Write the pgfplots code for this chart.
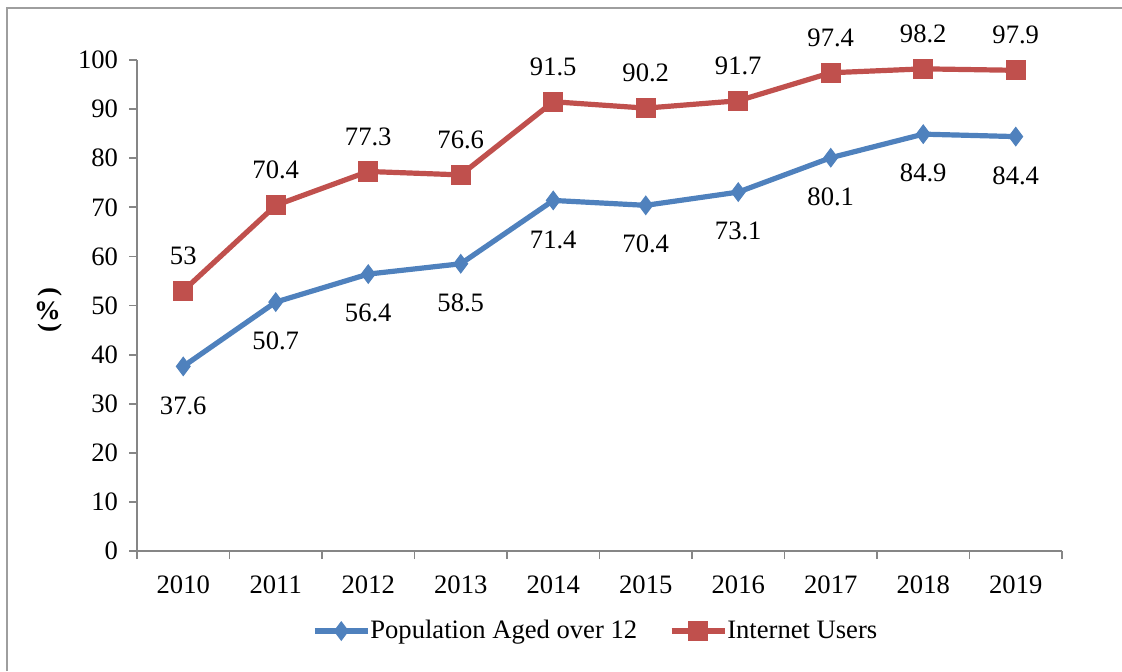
\documentclass[border=0pt]{standalone}
\usepackage{pgfplots}
\pgfplotsset{compat=1.18}
\usepackage{fontspec}
\setmainfont{Liberation Serif}
\definecolor{bl}{HTML}{4F81BD}
\definecolor{rd}{HTML}{C0504D}
\definecolor{ax}{HTML}{868686}
\begin{document}
\begin{tikzpicture}
\useasboundingbox (-68.5pt,-60pt) rectangle (492.5pt,275.5pt);
\draw[color=ax!80, line width=1pt] (-65pt,-60pt) -- (-65pt,271.5pt) -- (492.5pt,271.5pt);
\begin{axis}[
  at={(0,0)}, anchor=south west,
  scale only axis, width=462.5pt, height=245.5pt,
  xmin=-0.5, xmax=9.5, ymin=0, ymax=100,
  axis lines*=left,
  axis line style={color=ax, line width=0.9pt},
  xtick={0,...,9},
  xticklabels={2010,2011,2012,2013,2014,2015,2016,2017,2018,2019},
  minor xtick={-0.5,0.5,...,9.5},
  ytick={0,10,...,100},
  tick align=outside,
  major tick length=4pt, minor tick length=4pt,
  x tick style={draw=none},
  minor x tick style={draw=ax, line width=0.9pt},
  y tick style={draw=ax, line width=0.9pt},
  tick label style={font=\fontsize{13.3}{16}\selectfont},
  /pgf/number format/assume math mode=true,
  xticklabel style={yshift=-5pt},
  yticklabel style={xshift=-2pt},
  legend style={at={(0.497,-0.163)}, anchor=center, draw=none, legend columns=2,
    font=\fontsize{13.3}{16}\selectfont, /tikz/every even column/.append style={column sep=14pt},
    /tikz/every odd column/.append style={column sep=-2pt}},
  legend image code/.code={\draw[#1, mark repeat=2, mark phase=2] plot coordinates {(0pt,0pt) (13.25pt,0pt) (26.5pt,0pt)};},
  nodes near coords,
  every node near coord/.append style={font=\fontsize{13.3}{16}\selectfont, text=black, anchor=center},
  clip=false,
]
\addplot[color=bl, line width=2.6pt, mark=diamond*, mark size=4.6pt, mark options={fill=bl, line width=0.5pt},
  nodes near coords style={yshift=-19.5pt}]
  coordinates {(0,37.6) (1,50.7) (2,56.4) (3,58.5) (4,71.4) (5,70.4) (6,73.1) (7,80.1) (8,84.9) (9,84.4)};
\addlegendentry{Population Aged over 12}
\addplot[color=rd, line width=2.6pt, mark=square*, mark size=4.8pt, mark options={fill=rd, line width=0.5pt},
  nodes near coords style={yshift=17.5pt}]
  coordinates {(0,53) (1,70.4) (2,77.3) (3,76.6) (4,91.5) (5,90.2) (6,91.7) (7,97.4) (8,98.2) (9,97.9)};
\addlegendentry{Internet Users}
\path (rel axis cs:0,0.49) ++(-44.5pt,0pt) node[rotate=90, font=\fontsize{13.3}{16}\selectfont\bfseries] {(\,\rotatebox[origin=c]{-90}{\%}\,)};
\end{axis}
\end{tikzpicture}
\end{document}
